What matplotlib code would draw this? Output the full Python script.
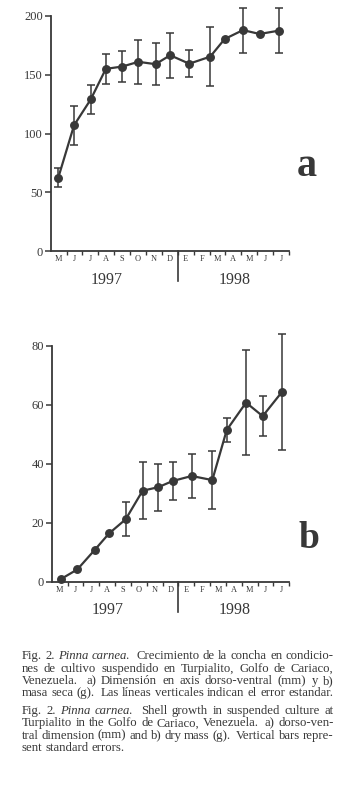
import numpy as np
import matplotlib
matplotlib.use('Agg')
import matplotlib.pyplot as plt

# ---------------- data ----------------
months = ['M', 'J', 'J', 'A', 'S', 'O', 'N', 'D', 'E', 'F', 'M', 'A', 'M', 'J', 'J']
years = ['1997', '1998']

# panel a: dorso-ventral dimension (mm)
a_x = [0.48, 1.47, 2.52, 3.47, 4.51, 5.52, 6.6, 7.52, 8.72, 10.04, 10.95, 12.1, 13.15, 14.35]
a_y = [62.5, 107, 129, 155, 157, 161, 159, 166.6, 159.4, 165.4, 180.4, 188, 184.7, 187.5]
a_err = [8, 16.5, 12.4, 13, 13.5, 18.5, 18, 19, 11.4, 25.3, None, 19.2, None, 19]

# panel b: dry mass (g)
b_x = [0.59, 1.62, 2.73, 3.62, 4.67, 5.74, 6.73, 7.64, 8.84, 10.14, 11.05, 12.27, 13.32, 14.52]
b_y = [0.85, 4.1, 10.8, 16.3, 21.1, 30.8, 32.0, 34.1, 35.8, 34.4, 51.4, 60.7, 56.1, 64.2]
b_err = [None, None, None, None, 5.8, 9.6, 8, 6.5, 7.4, 9.9, 4, 17.9, 6.7, 19.7]

caption_es = [
    [("Fig.", 'n'), ("2.", 'n'), ("Pinna", 'i'), ("carnea.", 'i'), ("", 'gap'), ("Crecimiento", 'n'), ("de", 'n'), ("la", 'n'),
     ("concha", 'n'), ("en", 'n'), ("condicio-", 'n')],
    [("nes", 'n'), ("de", 'n'), ("cultivo", 'n'), ("suspendido", 'n'), ("en", 'n'), ("Turpialito,", 'n'), ("Golfo", 'n'),
     ("de", 'n'), ("Cariaco,", 'n')],
    [("Venezuela.", 'n'), ("", 'gap'), ("a)", 'n'), ("Dimensión", 'n'), ("en", 'n'), ("axis", 'n'), ("dorso-ventral", 'n'),
     ("(mm)", 'n'), ("y", 'n'), ("b)", 'n')],
    [("masa", 'n'), ("seca", 'n'), ("(g).", 'n'), ("", 'gap'), ("Las", 'n'), ("líneas", 'n'), ("verticales", 'n'),
     ("indican", 'n'), ("el", 'n'), ("error", 'n'), ("estandar.", 'n')],
]
caption_en = [
    [("Fig.", 'n'), ("2.", 'n'), ("Pinna", 'i'), ("carnea.", 'i'), ("", 'gap'), ("Shell", 'n'), ("growth", 'n'), ("in", 'n'),
     ("suspended", 'n'), ("culture", 'n'), ("at", 'n')],
    [("Turpialito", 'n'), ("in", 'n'), ("the", 'n'), ("Golfo", 'n'), ("de", 'n'), ("Cariaco,", 'n'), ("Venezuela.", 'n'),
     ("", 'gap'), ("a)", 'n'), ("dorso-ven-", 'n')],
    [("tral", 'n'), ("dimension", 'n'), ("(mm)", 'n'), ("and", 'n'), ("b)", 'n'), ("dry", 'n'), ("mass", 'n'), ("(g).", 'n'),
     ("", 'gap'), ("Vertical", 'n'), ("bars", 'n'), ("repre-", 'n')],
    [("sent", 'n'), ("standard", 'n'), ("errors.", 'n')],
]

# ---------------- style ----------------
W, H = 340, 794
DPI = 100
SERIF = ['Liberation Serif', 'DejaVu Serif']
INK = '#383838'
plt.rcParams['font.family'] = SERIF

fig = plt.figure(figsize=(W / DPI, H / DPI), dpi=DPI, facecolor='white')


def panel(rect, xs, ys, errs, ymax, ystep, letter, letter_xy, letter_fs):
    ax = fig.add_axes(rect)
    ax.set_facecolor('none')
    ax.set_xlim(0, 15)
    ax.set_ylim(0, ymax)
    for s in ['top', 'right']:
        ax.spines[s].set_visible(False)
    for s in ['left', 'bottom']:
        ax.spines[s].set_linewidth(1.3)
        ax.spines[s].set_color(INK)
    ax.set_yticks(np.arange(0, ymax + 0.1, ystep))
    ax.set_yticklabels([f"{int(v)}" for v in np.arange(0, ymax + 0.1, ystep)])
    ax.tick_params(axis='y', direction='out', length=4, width=1.1, color=INK,
                   labelsize=9, labelcolor=INK, pad=1.5)
    centers = np.arange(len(months)) + 0.5
    ax.set_xticks(centers)
    ax.set_xticklabels(months)
    ax.tick_params(axis='x', which='major', length=0, labelsize=6, labelcolor=INK, pad=3)
    ax.set_xticks(np.arange(1, len(months) + 1), minor=True)
    ax.tick_params(axis='x', which='minor', direction='out', length=3, width=1.0, color=INK)
    # year divider
    ax.plot([8, 8], [0, -0.128], transform=ax.get_xaxis_transform(), color=INK, lw=1.2, clip_on=False)
    ax.text(3.53, -0.122, years[0], transform=ax.get_xaxis_transform(), ha='center', va='center',
            fontsize=11.5, color=INK)
    ax.text(11.56, -0.122, years[1], transform=ax.get_xaxis_transform(), ha='center', va='center',
            fontsize=11.5, color=INK)
    # data
    xs = np.array(xs, float)
    ys = np.array(ys, float)
    e = np.array([np.nan if v is None else v for v in errs], float)
    m = ~np.isnan(e)
    ax.errorbar(xs[m], ys[m], yerr=e[m], fmt='none', ecolor=INK, elinewidth=1.1,
                capsize=3.2, capthick=1.1, clip_on=False, zorder=2)
    ax.plot(xs, ys, '-o', color=INK, lw=1.6, markersize=5.4, clip_on=False, zorder=3)
    ax.text(letter_xy[0], letter_xy[1], letter, fontsize=letter_fs, fontweight='bold', color=INK,
            ha='center', va='center', clip_on=False)
    return ax


panel([50.7 / W, 1 - 251 / H, (289 - 50.7) / W, (251 - 16) / H], a_x, a_y, a_err, 200, 50, 'a', (16.1, 72), 29)
panel([51.7 / W, 1 - 581.5 / H, (289.3 - 51.7) / W, (581.5 - 345.7) / H], b_x, b_y, b_err, 80, 20, 'b', (16.24, 14.5), 27)

# ---------------- justified caption ----------------
renderer = fig.canvas.get_renderer()
X0, X1 = 21.7, 333.5


def word_width(word, style, fs):
    t = fig.text(0, 0, word, fontsize=fs, style='italic' if style == 'i' else 'normal')
    w = t.get_window_extent(renderer).width
    t.remove()
    return w


def line_parts(words, fs):
    items, gap_w = [], []
    pending = 1.0
    for w, st in words:
        if st == 'gap':
            pending = 1.7
            continue
        if items:
            gap_w.append(pending)
        pending = 1.0
        items.append((w, st, word_width(w, st, fs)))
    return items, gap_w


def space_width(fs):
    return word_width('a a', 'n', fs) - word_width('aa', 'n', fs)


# pick the largest caption size whose lines fit with at least 0.9 of a natural space
all_lines = caption_es + caption_en
FS = 7.0
for cand in np.arange(7.0, 10.01, 0.1):
    sp = space_width(cand)
    ok = True
    for ln in all_lines:
        items, gw = line_parts(ln, cand)
        if sum(i[2] for i in items) + 0.9 * sp * sum(gw) > X1 - X0:
            ok = False
            break
    if ok:
        FS = cand
    else:
        break


def draw_line(words, baseline, justify=True):
    items, gap_w = line_parts(words, FS)
    total = sum(i[2] for i in items)
    if justify:
        unit = (X1 - X0 - total) / sum(gap_w)
    else:
        unit = space_width(FS)
    x = X0
    for k, (w, st, wd) in enumerate(items):
        fig.text(x / W, 1 - baseline / H, w, fontsize=FS, color=INK, va='baseline', ha='left',
                 style='italic' if st == 'i' else 'normal')
        x += wd
        if k < len(gap_w):
            x += gap_w[k] * unit


base = 659.3
for line in caption_es:
    draw_line(line, base)
    base += 12.3
base = 714.0
for k, line in enumerate(caption_en):
    draw_line(line, base, justify=(k < len(caption_en) - 1))
    base += 12.3

fig.savefig('out.png', dpi=DPI, facecolor='white')
